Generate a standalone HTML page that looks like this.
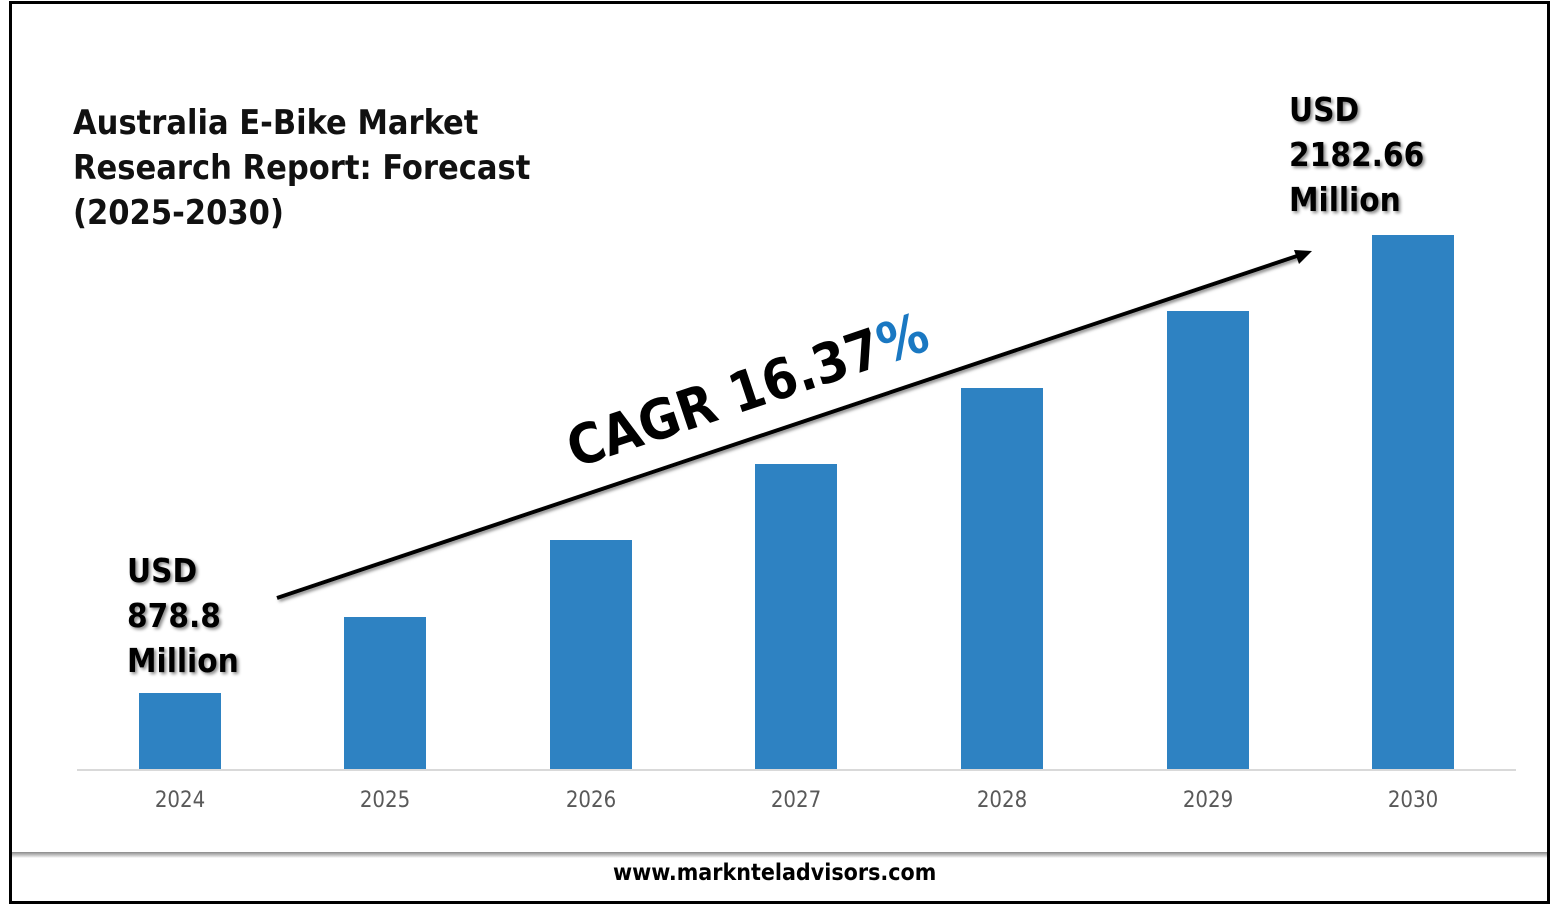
<!DOCTYPE html>
<html><head><style>
body{margin:0;width:1557px;height:905px;background:#fff;overflow:hidden;font-family:"DejaVu Sans","Liberation Sans",sans-serif;}
.frame{position:absolute;left:9px;top:1px;width:1535px;height:897px;border:3px solid #000;}
.t{position:absolute;white-space:nowrap;}
.bar{position:absolute;width:82px;background:#2e82c2;}
.yr{position:absolute;top:788px;font-size:22px;color:#595959;width:120px;text-align:center;font-family:"DejaVu Sans Condensed","DejaVu Sans",sans-serif;}
.big{font-weight:bold;font-size:33px;color:#000;text-shadow:2px 2px 3px #888;line-height:45px;font-family:"DejaVu Sans Condensed","DejaVu Sans",sans-serif;}
</style></head><body>
<div class="frame"></div>
<div style="position:absolute;left:12px;top:852px;width:1535px;height:6px;background:linear-gradient(#8a8a8a,#d8d8d8 70%,#fff);"></div>
<div class="t" style="left:613px;top:860px;font-size:23px;font-weight:bold;font-family:'DejaVu Sans Condensed','DejaVu Sans',sans-serif;">www.marknteladvisors.com</div>
<div class="t" style="left:73px;top:101px;font-size:34px;line-height:45px;font-family:'DejaVu Sans Condensed','DejaVu Sans',sans-serif;font-weight:bold;color:#111;">Australia E-Bike Market<br>Research Report: Forecast<br>(2025-2030)</div>
<div class="t big" style="left:127px;top:548px;">USD<br>878.8<br>Million</div>
<div class="t big" style="left:1289px;top:87px;">USD<br>2182.66<br>Million</div>
<div style="position:absolute;left:77px;top:769px;width:1439px;height:2px;background:#d9d9d9;"></div>
<div class="bar" style="left:139px;top:693px;height:76px"></div>
<div class="bar" style="left:344px;top:617px;height:152px"></div>
<div class="bar" style="left:550px;top:540px;height:229px"></div>
<div class="bar" style="left:755px;top:464px;height:305px"></div>
<div class="bar" style="left:961px;top:388px;height:381px"></div>
<div class="bar" style="left:1167px;top:311px;height:458px"></div>
<div class="bar" style="left:1372px;top:235px;height:534px"></div>
<div class="yr" style="left:120px">2024</div>
<div class="yr" style="left:325px">2025</div>
<div class="yr" style="left:531px">2026</div>
<div class="yr" style="left:736px">2027</div>
<div class="yr" style="left:942px">2028</div>
<div class="yr" style="left:1148px">2029</div>
<div class="yr" style="left:1353px">2030</div>
<svg style="position:absolute;left:0;top:0" width="1557" height="905">
<defs><filter id="s"><feDropShadow dx="2" dy="2" stdDeviation="1.5" flood-color="#888"/></filter></defs>
<line x1="277" y1="598" x2="1300" y2="255" stroke="#000" stroke-width="4" filter="url(#s)"/>
<polygon points="1312,251 1294,250 1299,264" fill="#000"/>
<text transform="translate(575,468) rotate(-18.5)" font-family="DejaVu Sans Condensed, DejaVu Sans, sans-serif" font-size="55" font-weight="bold" fill="#000">CAGR 16.37<tspan fill="#1a78c2">%</tspan></text>
</svg>
</body></html>
